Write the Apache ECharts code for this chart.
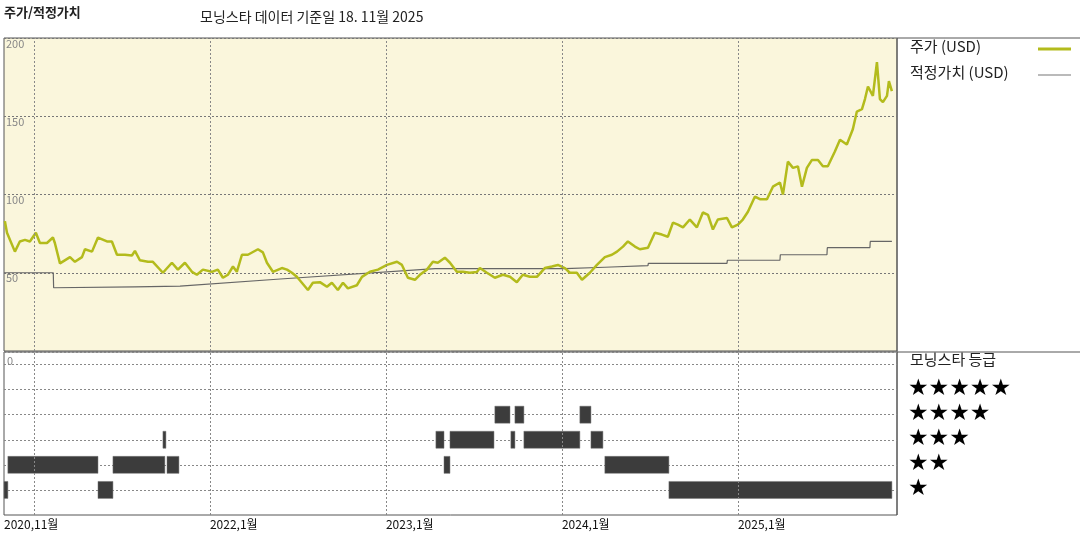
<!DOCTYPE html>
<html><head><meta charset="utf-8">
<script src="https://cdn.jsdelivr.net/npm/echarts@6/dist/echarts.min.js"></script>
<style>html,body{margin:0;background:#fff}#c{width:1080px;height:540px}</style>
</head><body><div id="c"></div>
<script>
// time in decimal years
const priceT=[2020.835,2020.847,2020.892,2020.920,2020.949,2020.977,2021.011,2021.034,2021.074,2021.108,2021.119,2021.148,2021.205,2021.233,2021.273,2021.290,2021.330,2021.364,2021.415,2021.443,2021.472,2021.517,2021.557,2021.574,2021.602,2021.648,2021.676,2021.733,2021.784,2021.818,2021.858,2021.898,2021.926,2021.960,2022.011,2022.045,2022.074,2022.102,2022.131,2022.153,2022.182,2022.216,2022.273,2022.301,2022.324,2022.358,2022.409,2022.438,2022.466,2022.494,2022.557,2022.585,2022.625,2022.665,2022.693,2022.727,2022.756,2022.784,2022.835,2022.864,2022.909,2022.955,2023.006,2023.063,2023.091,2023.125,2023.165,2023.193,2023.233,2023.267,2023.295,2023.335,2023.364,2023.403,2023.438,2023.477,2023.517,2023.534,2023.574,2023.619,2023.665,2023.705,2023.744,2023.778,2023.818,2023.858,2023.903,2023.943,2023.977,2024.017,2024.045,2024.085,2024.114,2024.159,2024.199,2024.244,2024.284,2024.313,2024.347,2024.375,2024.415,2024.443,2024.489,2024.528,2024.568,2024.602,2024.631,2024.659,2024.688,2024.727,2024.767,2024.801,2024.830,2024.858,2024.886,2024.938,2024.966,2025.000,2025.028,2025.057,2025.097,2025.125,2025.165,2025.199,2025.239,2025.256,2025.284,2025.313,2025.341,2025.364,2025.392,2025.420,2025.455,2025.483,2025.511,2025.551,2025.580,2025.619,2025.653,2025.676,2025.705,2025.722,2025.739,2025.767,2025.790,2025.807,2025.824,2025.847,2025.858,2025.875];
const priceV=[83,75.6,63.5,70,71,70,75.6,69,69,72.5,69,56,60,57,60,65,63.5,72.5,70,70,61.5,61.5,61,64,58,57,57,50,56.4,52,56.4,50.6,48.7,52,50.6,52,46.8,48.7,54,50.6,61.5,61.5,65,63,56.4,50.6,53,52,50,47.4,39,43.6,44,41,43.6,39,43.6,40,42,47.4,50.6,52,55,57,55,46.8,45.5,48.7,52,57,56.4,59.6,56.4,50.6,50.6,50,50.5,53,50,46.8,48.7,47.4,44,48.7,47.4,47.4,53,54,55,53,50,50,45.5,50,55,60,61.5,63.5,66.7,70,66.7,65,66,75.6,74.4,73,82,80.7,79,84,79,88.5,87,77.6,84,85,79,80.7,84,89,98.7,97,97,105,107.7,100,121,117,118,105,117,122,122,118,118,127.5,135,132,141.7,153,154.5,161,169,163,184.6,161,159,163,172.4,166];
const fairT=[2020.830,2021.110,2021.112,2021.574,2021.830,2022.400,2023.280,2024.017,2024.020,2024.244,2024.246,2024.489,2024.491,2024.938,2024.940,2025.239,2025.241,2025.506,2025.508,2025.750,2025.752,2025.875];
const fairV=[50,50,40.4,41,41.5,46,52.6,52.6,53.5,53.5,54.5,54.5,56,56,58,58,61.5,61.5,66,66,70,70];
// rating segments: [start, end, stars]
const ratingStart=[2020.830,2021.364,2024.608,2020.852,2021.449,2021.756,2023.330,2024.244,2021.733,2023.284,2023.364,2023.710,2023.784,2024.165,2023.619,2023.733,2024.102];
const ratingEnd  =[2020.852,2021.449,2025.875,2021.364,2021.744,2021.824,2023.364,2024.608,2021.750,2023.330,2023.614,2023.733,2024.102,2024.233,2023.705,2023.784,2024.165];
const ratingStars=[1,1,1,2,2,2,2,2,3,3,3,3,3,3,4,4,4];
const yearTicks=[2020.83,2021,2022,2023,2024,2025];
const yearLabels=['2020,11월','2021,1월','2022,1월','2023,1월','2024,1월','2025,1월'];
const priceTicks=[50,100,150,200];
const starLabels=['★★★★★','★★★★','★★★','★★','★'];

const XMIN=2020.83, XMAX=2025.904;
const F='"Noto Sans CJK KR","Noto Sans",sans-serif';
const chart=echarts.init(document.getElementById('c'));
const grid=[{left:4,right:183,top:38,height:313,show:true,backgroundColor:'#faf6dc',borderColor:'#555',borderWidth:1},
            {left:4,right:183,top:352,height:163,show:true,backgroundColor:'#fff',borderColor:'#555',borderWidth:1}];
const vlines={silent:true,symbol:'none',label:{show:false},lineStyle:{color:'#888',type:[2,2],width:1},data:yearTicks.slice(1).map(v=>({xAxis:v}))};
const ratingData=ratingStart.map((s,i)=>[s,ratingEnd[i],ratingStars[i]]);
const series=[
 {type:'line',xAxisIndex:0,yAxisIndex:0,data:fairT.map((t,i)=>[t,fairV[i]]),symbol:'none',lineStyle:{color:'#666',width:1.2},markLine:vlines,z:3},
 {type:'line',xAxisIndex:0,yAxisIndex:0,data:priceT.map((t,i)=>[t,priceV[i]]),symbol:'none',lineStyle:{color:'#b3bb1c',width:2.5},z:4},
 {type:'line',xAxisIndex:1,yAxisIndex:1,data:[],markLine:vlines},
 {type:'custom',xAxisIndex:1,yAxisIndex:1,data:ratingData,encode:{x:[0,1],y:2},
  renderItem:(params,api)=>{
    const a=api.coord([api.value(0),api.value(2)]), b=api.coord([api.value(1),api.value(2)]);
    const h=17;
    return {type:'rect',shape:{x:a[0],y:a[1]-h/2,width:Math.max(b[0]-a[0],2),height:h},style:{fill:'#3c3c3c',stroke:'#777',lineWidth:0.5}};
  }}
];
chart.setOption({
 animation:false,
 grid,
 xAxis:[
  {type:'value',gridIndex:0,min:XMIN,max:XMAX,axisLine:{show:false},axisTick:{show:false},axisLabel:{show:false},splitLine:{show:false}},
  {type:'value',gridIndex:1,min:XMIN,max:XMAX,axisLine:{show:false},axisTick:{show:false},splitLine:{show:false},
   axisLabel:{customValues:yearTicks,formatter:v=>{const i=yearTicks.findIndex(t=>Math.abs(t-v)<1e-6);return i>=0?yearLabels[i]:'';},
     color:'#111',fontFamily:F,fontSize:12,align:'left',margin:3,hideOverlap:false,showMinLabel:true,showMaxLabel:true}}
 ],
 yAxis:[
  {type:'value',gridIndex:0,min:0,max:200,interval:50,axisLine:{show:false},axisTick:{show:false},
   axisLabel:{inside:true,verticalAlign:'top',color:'#888',fontSize:11,fontFamily:F,margin:2,formatter:v=>priceTicks.includes(v)?String(v):''},
   splitLine:{lineStyle:{color:'#777',type:[2,2]}}},
  {type:'value',gridIndex:1,min:0,max:6.5,interval:1,axisLine:{show:false},axisTick:{show:false},axisLabel:{show:false},
   splitLine:{lineStyle:{color:'#888',type:[2,2]},showMinLine:false}}
 ],
 series,
 graphic:[
  {type:'text',left:4,top:6,style:{text:'주가/적정가치',font:'bold 13px '+F,fill:'#222'}},
  {type:'text',left:200,top:10,style:{text:'모닝스타 데이터 기준일 18. 11월 2025',font:'14px '+F,fill:'#222'}},
  {type:'text',left:7,top:355,style:{text:'0',font:'11px '+F,fill:'#888'}},
  {type:'line',shape:{x1:897,y1:38,x2:1080,y2:38},style:{stroke:'#555',lineWidth:1}},
  {type:'line',shape:{x1:897,y1:352,x2:1080,y2:352},style:{stroke:'#555',lineWidth:1}},
  {type:'line',shape:{x1:897,y1:38,x2:897,y2:515},style:{stroke:'#555',lineWidth:1}},
  {type:'text',left:910,top:39,style:{text:'주가 (USD)',font:'15px '+F,fill:'#222'}},
  {type:'line',shape:{x1:1038,y1:49,x2:1071,y2:49},style:{stroke:'#b3bb1c',lineWidth:3}},
  {type:'text',left:910,top:65,style:{text:'적정가치 (USD)',font:'15px '+F,fill:'#222'}},
  {type:'line',shape:{x1:1038,y1:75,x2:1071,y2:75},style:{stroke:'#777',lineWidth:1.2}},
  {type:'text',left:910,top:352,style:{text:'모닝스타 등급',font:'15px '+F,fill:'#222'}},
  ...starLabels.map((s,i)=>({type:'text',left:908,top:378+i*25,style:{text:s,font:'23px "DejaVu Sans",sans-serif',fill:'#000'}}))
 ]
});
</script></body></html>
